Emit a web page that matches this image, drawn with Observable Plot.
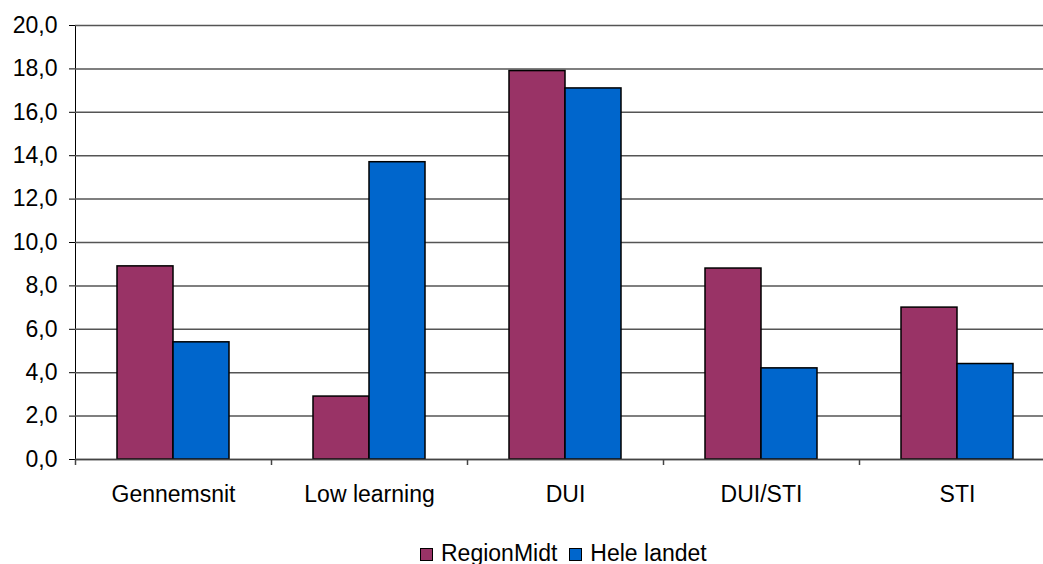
<!DOCTYPE html>
<html>
<head>
<meta charset="utf-8">
<script src="https://cdn.jsdelivr.net/npm/d3@7"></script>
<script src="https://cdn.jsdelivr.net/npm/@observablehq/plot@0.6"></script>
<style>
  html, body { margin: 0; padding: 0; background: #fff; overflow: hidden; width: 1043px; height: 564px; }
  #chart { position: absolute; left: 0; top: 0; width: 1055px; }
  #chart svg { max-width: none !important; width: 1055px !important; height: 520px !important; }
  #legend { position: absolute; left: 420px; top: 542px; font-family: "Liberation Sans", Arial, sans-serif; font-size: 23px; line-height: 23px; color: #000; white-space: nowrap; }
  .sw { display: inline-block; width: 13px; height: 13px; border: 1.5px solid #000; box-sizing: border-box; vertical-align: baseline; margin-right: 8px; }
  .item { margin-right: 12px; }
</style>
</head>
<body>
<div id="chart"></div>
<div id="legend"></div>
<script>
const categories = ["Gennemsnit", "Low learning", "DUI", "DUI/STI", "STI"];
const series = ["RegionMidt", "Hele landet"];
const regionMidt = [8.9, 2.9, 17.9, 8.8, 7.0];
const heleLandet = [5.4, 13.7, 17.1, 4.2, 4.4];
const yTicks = [0, 2, 4, 6, 8, 10, 12, 14, 16, 18, 20];
const colors = ["#993366", "#0066CC"];

const data = [];
categories.forEach((c, i) => {
  data.push({category: c, series: series[0], value: regionMidt[i]});
  data.push({category: c, series: series[1], value: heleLandet[i]});
});

const chart = Plot.plot({
  width: 1055,
  height: 520,
  marginLeft: 75,
  marginRight: 0,
  marginTop: 25,
  marginBottom: 61,
  style: {fontFamily: "'Liberation Sans', Arial, sans-serif", fontSize: "23px", color: "#000", background: "white", overflow: "visible"},
  fx: {domain: categories, padding: 0, axis: "bottom", tickSize: 0, tickPadding: 26, label: null},
  x: {domain: series, paddingInner: 0, paddingOuter: 0.75, axis: null},
  y: {domain: [0, 20], ticks: yTicks, tickFormat: d => d.toFixed(1).replace(".", ","), tickSize: 6, tickPadding: 12, label: null, line: true},
  color: {domain: series, range: colors},
  marks: [
    Plot.gridY(yTicks, {stroke: "#555", strokeOpacity: 1, strokeWidth: 1.5}),
    Plot.barY(data, {fx: "category", x: "series", y: "value", fill: "series", stroke: "#000", strokeWidth: 1.5}),
    Plot.ruleY([0], {stroke: "#444", strokeWidth: 1.5}),
    Plot.ruleX(categories, {fx: d => d, x: () => series[0], y1: 0, y2: 0, insetBottom: -6, dx: -70, stroke: "#444", strokeWidth: 1.5})
  ]
});
document.getElementById("chart").append(chart);

const legend = document.getElementById("legend");
series.forEach((s, i) => {
  const item = document.createElement("span");
  item.className = "item";
  const sw = document.createElement("span");
  sw.className = "sw";
  sw.style.background = colors[i];
  item.append(sw, document.createTextNode(s));
  legend.append(item);
});
</script>
</body>
</html>
